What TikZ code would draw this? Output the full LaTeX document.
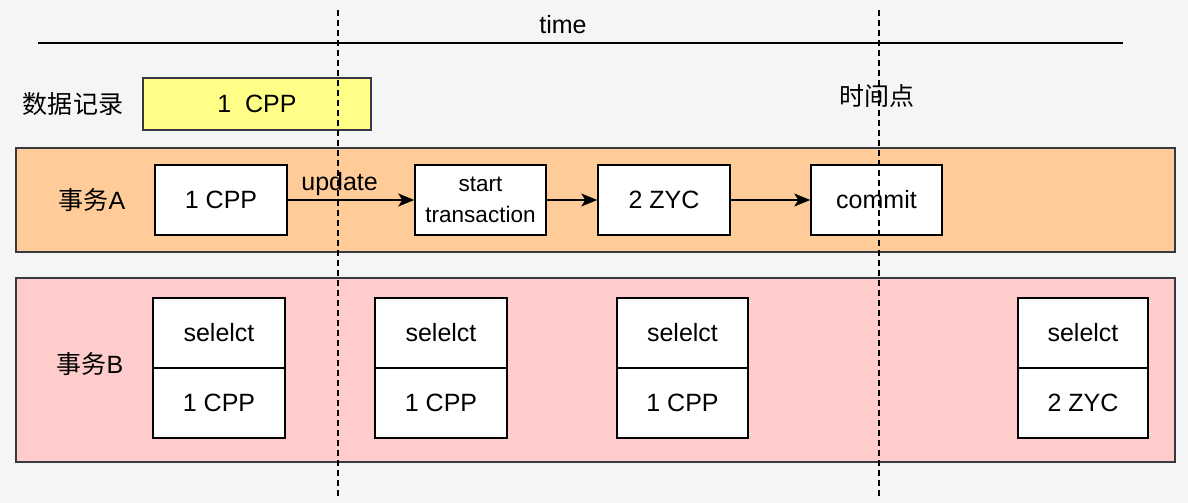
\documentclass[tikz,border=0pt]{standalone}
\usepackage{fontspec}
\setmainfont{Liberation Sans}
\newfontfamily\cjk{Noto Sans CJK SC}
\usetikzlibrary{arrows.meta}
\definecolor{bgc}{HTML}{F5F5F5}
\definecolor{yel}{HTML}{FFFF88}
\definecolor{ora}{HTML}{FFCC99}
\definecolor{pnk}{HTML}{FFCCCC}
\definecolor{strk}{HTML}{36393D}
\begin{document}
\begin{tikzpicture}[x=1pt,y=-1pt,
  txt/.style={inner sep=0pt, font=\fontsize{25}{30}\selectfont},
  cjktxt/.style={inner sep=0pt, font=\fontsize{25}{30}\selectfont},
  band/.style={draw=strk, line width=1.5pt, inner sep=0pt},
  wbox/.style={draw=black, fill=white, line width=1.5pt, inner sep=0pt, minimum width=132pt, minimum height=70pt, font=\fontsize{25}{30}\selectfont, align=center},
  conn/.style={line width=1.5pt, -{Stealth[length=16pt,width=13pt,inset=4pt]}},
  vdash/.style={line width=1.5pt, dash pattern=on 6pt off 4pt}]
\fill[bgc] (0,0) rectangle (1188,503);
\useasboundingbox (0,0) rectangle (1188,503);
% time axis
\coordinate (tl) at (38,43);
\coordinate (tr) at (1123,43);
\draw[line width=1.5pt] (tl) -- (tr);
\node[txt] (time) at (563,25) {time};
% data record
\node[cjktxt] (rec) at (73,104) {\cjk 数据记录};
\node[band, fill=yel, minimum width=228pt, minimum height=52pt, font=\fontsize{25}{30}\selectfont] (yb) at (257,104) {1\ \ CPP};
\node[cjktxt] (tp) at (877,96) {\cjk 时间点};
% band A
\node[band, fill=ora, minimum width=1159pt, minimum height=104pt] (bandA) at (595.5,200) {};
\node[cjktxt] (la) at (92,200) {{\cjk 事务}A};
\node[wbox] (a1) at (221,200) {1 CPP};
\node[wbox, minimum width=131pt, font=\fontsize{22.5}{31}\selectfont] (a2) at (480.5,200) {start\\transaction};
\node[wbox] (a3) at (664,200) {2 ZYC};
\node[wbox, minimum width=131pt] (a4) at (876.5,200) {commit};
\draw[conn] (a1) -- node[txt, pos=0.41, above=4pt] (up) {update} (a2);
\draw[conn] (a2) -- (a3);
\draw[conn] (a3) -- (a4);
% band B
\node[band, fill=pnk, minimum width=1159pt, minimum height=184pt] (bandB) at (595.5,370) {};
\node[cjktxt] (lb) at (90,364) {{\cjk 事务}B};
\node[wbox] (b1t) at (219,333) {selelct};
\node[wbox] (b1b) at (219,403) {1 CPP};
\node[wbox] (b2t) at (441,333) {selelct};
\node[wbox] (b2b) at (441,403) {1 CPP};
\node[wbox, minimum width=131pt] (b3t) at (682.5,333) {selelct};
\node[wbox, minimum width=131pt] (b3b) at (682.5,403) {1 CPP};
\node[wbox, minimum width=130pt] (b4t) at (1083,333) {selelct};
\node[wbox, minimum width=130pt] (b4b) at (1083,403) {2 ZYC};
% dashed time markers
\coordinate (d1t) at (338,10);
\coordinate (d1b) at (338,497);
\coordinate (d2t) at (879,10);
\coordinate (d2b) at (879,497);
\draw[vdash] (d1t) -- (d1b);
\draw[vdash] (d2t) -- (d2b);
\end{tikzpicture}
\end{document}
